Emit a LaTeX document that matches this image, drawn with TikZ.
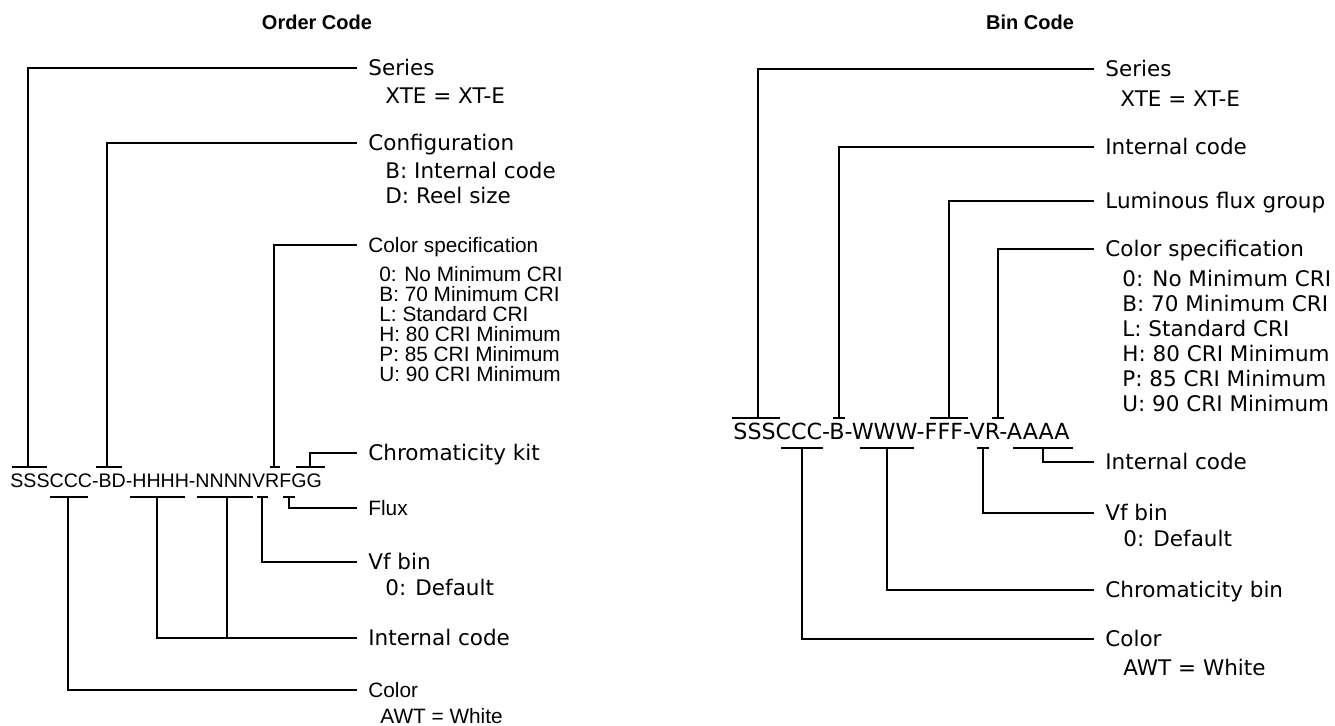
\documentclass[tikz,border=0pt]{standalone}
\usepackage{fontspec}
\setmainfont{DejaVu Sans}
\newfontfamily\robfont{Liberation Sans}
\tikzset{
  lead/.style={line width=1pt},
  lbl/.style={anchor=west, inner xsep=5.5pt, inner ysep=0pt,
    font=\fontsize{10.75}{12.5}\selectfont, text height=7.8pt, text depth=0pt},
  sub/.style={anchor=north west, inner sep=0pt, align=left,
    font=\fontsize{10.75}{12.5}\selectfont},
  rlbl/.style={lbl, font=\robfont\fontsize{10.4}{10}\selectfont, text height=7.4pt},
  rsub/.style={sub, font=\robfont\fontsize{10.4}{10}\selectfont},
  ttl/.style={font=\robfont\bfseries\fontsize{10}{12}\selectfont, inner sep=0pt}
}
\begin{document}
\begin{tikzpicture}[x=0.5pt,y=-0.5pt]%Order and bin code
\useasboundingbox (0,0) rectangle (1335,726);
% titles
\node[ttl] (ttlorder) at (317,22) {Order Code};
\node[ttl] (ttlbin) at (1030,22) {Bin Code};
% code strings
\node[anchor=base west, inner sep=0pt, font=\robfont\fontsize{9.8}{12}\selectfont] (ordercode) at (10,488) {SSSCCC-BD-HHHH-NNNNVRFGG};
\node[anchor=base west, inner sep=0pt, font=\fontsize{11.1}{13}\selectfont] (bincode) at (733,440) {SSSCCC-B-WWW-FFF-VR-AAAA};
% tick bars
\foreach \a/\b/\y in {12/47/467, 96/122/467, 270/280/467, 296/325/467,
  50/88/497, 130/185/497, 197/253/497, 257/268/497, 283/295/497,
  732/780/418, 833/845/418, 930/968/418, 992/1004/418,
  781/823/448, 860/914/448, 977/989/448, 1013/1073/448}
  \draw[lead] (\a,\y) -- (\b,\y);
% tick centres
\coordinate (oSer) at (28,467);
\coordinate (oCfg) at (107,467);
\coordinate (oCri) at (274,467);
\coordinate (oKit) at (310,467);
\coordinate (oCol) at (68,497);
\coordinate (oIntA) at (157,497);
\coordinate (oIntB) at (227,497);
\coordinate (oVf) at (262,497);
\coordinate (oFlux) at (289,497);
\coordinate (bSer) at (758,418);
\coordinate (bInt) at (839,418);
\coordinate (bLum) at (949,418);
\coordinate (bCri) at (998,418);
\coordinate (bCol) at (802,448);
\coordinate (bChr) at (887,448);
\coordinate (bVf) at (983,448);
\coordinate (bIntB) at (1043,448);
% order code labels
\node[lbl] (oseries) at (357,68) {Series};
\node[sub] (oseriesv) at (385,87) {XTE = XT-E};
\node[lbl] (oconf) at (357,143) {Configuration};
\node[sub] (oconfv) at (385,162) {B: Internal code\\D: Reel size};
\node[rlbl] (ocri) at (357,245) {Color specification};
\node[rsub] (ocriv) at (379,266) {0: No Minimum CRI\\B: 70 Minimum CRI\\L: Standard CRI\\H: 80 CRI Minimum\\P: 85 CRI Minimum\\U: 90 CRI Minimum};
\node[lbl] (okit) at (357,453) {Chromaticity kit};
\node[rlbl] (oflux) at (357,508) {Flux};
\node[lbl] (ovf) at (357,562) {Vf bin};
\node[sub] (ovfv) at (385,579) {0: Default};
\node[lbl] (oint) at (357,638) {Internal code};
\node[rlbl] (ocol) at (357,690) {Color};
\node[rsub] (ocolv) at (380,708) {AWT = White};
% bin code labels
\node[lbl] (bseries) at (1094,69) {Series};
\node[sub] (bseriesv) at (1120,90) {XTE = XT-E};
\node[lbl] (bint) at (1094,147) {Internal code};
\node[lbl] (blum) at (1094,201) {Luminous flux group};
\node[lbl] (bcri) at (1094,249) {Color specification};
\node[sub] (bcriv) at (1122,270) {0: No Minimum CRI\\B: 70 Minimum CRI\\L: Standard CRI\\H: 80 CRI Minimum\\P: 85 CRI Minimum\\U: 90 CRI Minimum};
\node[lbl] (bintb) at (1094,462) {Internal code};
\node[lbl] (bvf) at (1094,513) {Vf bin};
\node[sub] (bvfv) at (1123,530) {0: Default};
\node[lbl] (bchr) at (1094,590) {Chromaticity bin};
\node[lbl] (bcol) at (1094,639) {Color};
\node[sub] (bcolv) at (1123,659) {AWT = White};
% leaders
\draw[lead] (oSer) |- (oseries.west);
\draw[lead] (oCfg) |- (oconf.west);
\draw[lead] (oCri) |- (ocri.west);
\draw[lead] (oKit) |- (okit.west);
\draw[lead] (oFlux) |- (oflux.west);
\draw[lead] (oVf) |- (ovf.west);
\draw[lead] (oIntA) |- (oint.west);
\draw[lead] (oIntB) -- (oIntB |- oint.west);
\draw[lead] (oCol) |- (ocol.west);
\draw[lead] (bSer) |- (bseries.west);
\draw[lead] (bInt) |- (bint.west);
\draw[lead] (bLum) |- (blum.west);
\draw[lead] (bCri) |- (bcri.west);
\draw[lead] (bIntB) |- (bintb.west);
\draw[lead] (bVf) |- (bvf.west);
\draw[lead] (bChr) |- (bchr.west);
\draw[lead] (bCol) |- (bcol.west);
\end{tikzpicture}
\end{document}
